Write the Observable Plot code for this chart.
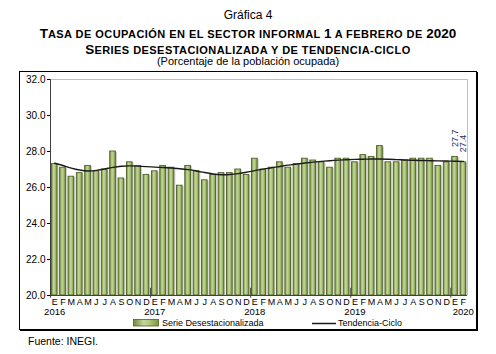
<!DOCTYPE html>
<html><head><meta charset="utf-8">
<script src="https://cdn.jsdelivr.net/npm/d3@7"></script>
<script src="https://cdn.jsdelivr.net/npm/@observablehq/plot@0.6"></script>
<style>
body{margin:0;background:#fff;font-family:"Liberation Sans",Arial,sans-serif;}
#wrap{position:relative;width:496px;height:354px;overflow:hidden;background:#fff;}
.t{position:absolute;left:0;width:496px;text-align:center;white-space:nowrap;color:#000;line-height:1;}
.b{font-weight:bold;}
.big{font-size:13.5px;}
.sm{font-size:11px;text-transform:uppercase;letter-spacing:0.45px;}
#frame{position:absolute;left:19px;top:71px;width:458px;height:259px;box-sizing:border-box;border:1px solid #000;box-shadow:1px 1px 0 #000;}
#chart{position:absolute;left:19px;top:71px;}
.leg{position:absolute;font-size:9px;line-height:1;color:#000;white-space:nowrap;}
#src{position:absolute;left:28px;top:336px;font-size:10.5px;line-height:1;}
</style></head>
<body>
<div id="wrap">
  <div class="t" style="top:9px;font-size:12px;">Gráfica 4</div>
  <div class="t b" id="t2" style="top:25px;"><span class="big">T</span><span class="sm">asa de ocupación en el sector informal </span><span class="big">1</span><span class="sm"> a febrero de </span><span class="big">2020</span></div>
  <div class="t b" id="t3" style="top:41px;"><span class="big">S</span><span class="sm">eries desestacionalizada y de tendencia-ciclo</span></div>
  <div class="t" style="top:56px;font-size:11px;">(Porcentaje de la población ocupada)</div>
  <div id="frame"></div>
  <div id="chart"></div>
  <svg class="leg" style="left:133px;top:319px;" width="27" height="8"><rect x="0.5" y="0.5" width="25" height="6.5" fill="url(#bargrad2)" stroke="#4f6228" stroke-width="0.8"/>
    <defs><linearGradient id="bargrad2" x1="0" x2="1" y1="0" y2="0"><stop offset="0" stop-color="#6f8a33"/><stop offset="0.4" stop-color="#c3d79a"/><stop offset="0.6" stop-color="#b4ca85"/><stop offset="1" stop-color="#7a963c"/></linearGradient></defs></svg>
  <div class="leg" style="left:162px;top:319px;">Serie Desestacionalizada</div>
  <svg class="leg" style="left:311px;top:319px;" width="26" height="8"><line x1="1" x2="25" y1="4.5" y2="4.5" stroke="#1a1a1a" stroke-width="1.5"/></svg>
  <div class="leg" style="left:338px;top:319px;">Tendencia-Ciclo</div>
  <div id="src">Fuente: INEGI.</div>
</div>
<script>
const monthLetters = ["E","F","M","A","M","J","J","A","S","O","N","D"];
const years = ["2016","2017","2018","2019","2020"];
const serie = [
  27.3, 27.1, 26.6, 26.8, 27.2, 26.9, 27.0, 28.0, 26.5, 27.4, 27.2, 26.7,
  26.9, 27.2, 27.1, 26.1, 27.2, 26.9, 26.4, 26.7, 26.8, 26.8, 27.0, 26.7,
  27.6, 27.0, 27.1, 27.4, 27.1, 27.3, 27.6, 27.5, 27.4, 27.1, 27.6, 27.6,
  27.4, 27.8, 27.7, 28.3, 27.4, 27.4, 27.5, 27.6, 27.6, 27.6, 27.2, 27.4,
  27.7, 27.4
];
const tendencia = [
  27.35, 27.22, 27.08, 26.97, 26.92, 26.95, 27.03, 27.12, 27.18, 27.20, 27.19, 27.16,
  27.13, 27.11, 27.08, 27.04, 26.99, 26.92, 26.83, 26.75, 26.71, 26.72, 26.77, 26.85,
  26.94, 27.02, 27.10, 27.17, 27.24, 27.30, 27.36, 27.41, 27.45, 27.49, 27.52, 27.54,
  27.56, 27.57, 27.58, 27.58, 27.57, 27.55, 27.53, 27.51, 27.50, 27.49, 27.48, 27.47,
  27.46, 27.45
];
const yTicks = [20, 22, 24, 26, 28, 30, 32];
const labeled = ["27.7", "27.4"];

const data = serie.map((v, i) => ({
  i, v, t: tendencia[i],
  m: monthLetters[i % 12],
  y: years[Math.floor(i / 12)]
}));
const yearData = years.map((y, k) => {
  const idx = data.filter(d => d.y === y).map(d => d.i);
  const pos = idx.length === 12 ? idx[0] : idx[idx.length - 1];
  return {y, x: pos + 0.5};
});
const labelData = data.slice(data.length - labeled.length).map((d, k) => ({...d, lab: labeled[k]}));
const bounds = years.map((y, k) => k * 12).filter(b => b < data.length);

const font = "Liberation Sans, Arial, sans-serif";
const plot = Plot.plot({
  width: 458, height: 259,
  marginLeft: 31, marginRight: 10, marginTop: 8, marginBottom: 35,
  x: {domain: [0, data.length], axis: null},
  y: {domain: [20, 32], axis: null},
  style: {fontFamily: font, fontSize: "10px", color: "#000", background: "transparent", overflow: "visible"},
  marks: [
    Plot.ruleY([32], {stroke: "#bfbfbf"}),
    Plot.ruleX([data.length], {stroke: "#bfbfbf"}),
    Plot.rectY(data, {x1: d => d.i + 0.16, x2: d => d.i + 0.84, y1: 20, y2: "v", fill: "#cfcfcf", dx: 1.6, dy: 0.8}),
    Plot.rectY(data, {x1: d => d.i + 0.16, x2: d => d.i + 0.84, y1: 20, y2: "v", fill: "url(#bargrad)", stroke: "#4f6228", strokeWidth: 0.9}),
    Plot.line(data, {x: d => d.i + 0.5, y: "t", stroke: "#1a1a1a", strokeWidth: 1.4, curve: "natural"}),
    Plot.ruleX([0], {stroke: "#404040"}),
    Plot.ruleY([20], {stroke: "#404040"}),
    Plot.ruleX(bounds, {y1: 19.85, y2: 20.4, stroke: "#404040"}),
    Plot.axisY(yTicks, {tickFormat: d => d.toFixed(1), tickSize: 3, tickPadding: 2, label: null, fontSize: 10}),
    Plot.text(data, {x: d => d.i + 0.5, y: 20, text: "m", lineAnchor: "top", dy: 3, fontSize: 9}),
    Plot.text(yearData, {x: "x", y: 20, text: "y", lineAnchor: "top", dy: 12.5, fontSize: 9.5}),
    Plot.text(labelData, {x: d => d.i + 0.5, y: "v", text: "lab", rotate: -90, textAnchor: "start", dy: -10, fill: "#1c2a5e", fontSize: 9})
  ]
});
const defs = d3.select(plot).insert("defs", ":first-child");
const g = defs.append("linearGradient").attr("id", "bargrad").attr("x1", 0).attr("x2", 1).attr("y1", 0).attr("y2", 0);
[[0, "#6f8a33"], [0.4, "#c3d79a"], [0.6, "#b4ca85"], [1, "#7a963c"]].forEach(([o, c]) => g.append("stop").attr("offset", o).attr("stop-color", c));
document.getElementById("chart").appendChild(plot);
</script>
</body></html>
